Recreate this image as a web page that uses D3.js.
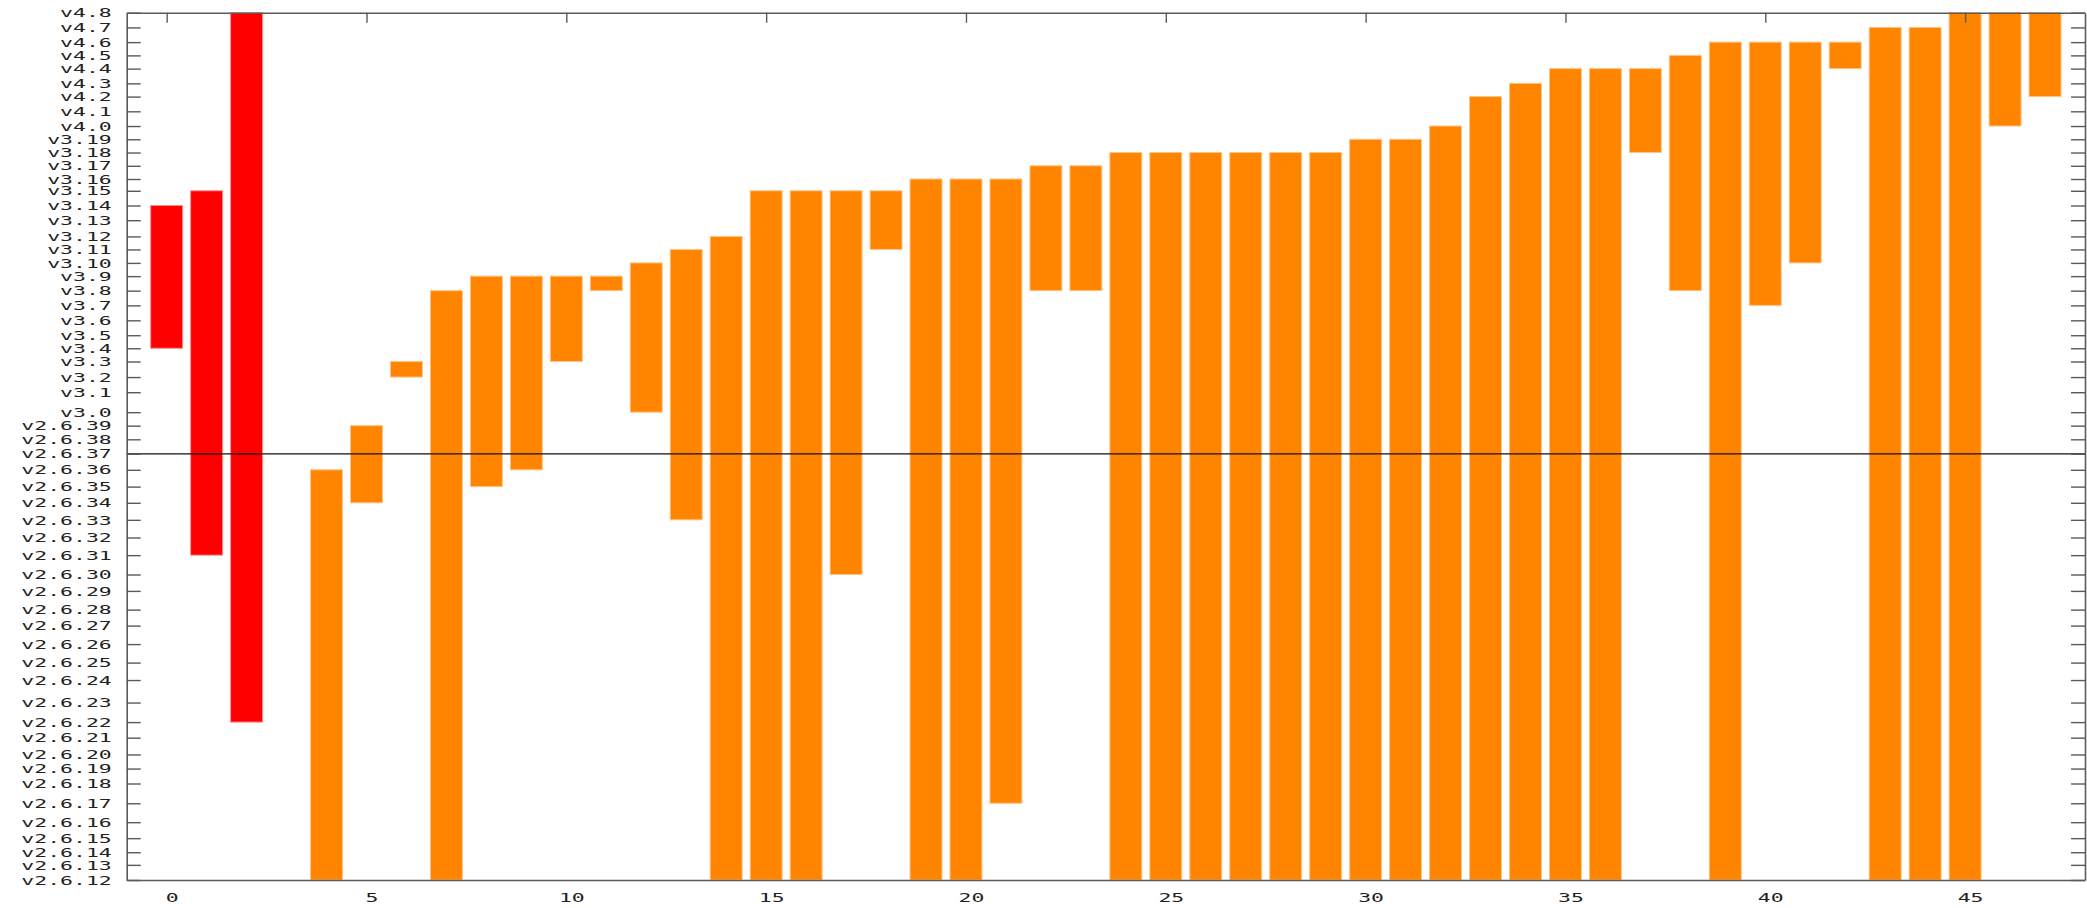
<!DOCTYPE html>
<html>
<head>
<meta charset="utf-8">
<script src="https://cdn.jsdelivr.net/npm/d3@7"></script>
<style>
  html, body { margin: 0; padding: 0; background: #fff; }
  svg { display: block; }
  .lbl { font-family: "DejaVu Sans Mono", "Liberation Mono", monospace; font-size: 13px; fill: #222; }
</style>
</head>
<body>
<svg id="chart" width="2087" height="908"></svg>
<script>
// ---- data ----
const versions = [
  "v2.6.12","v2.6.13","v2.6.14","v2.6.15","v2.6.16","v2.6.17","v2.6.18","v2.6.19","v2.6.20",
  "v2.6.21","v2.6.22","v2.6.23","v2.6.24","v2.6.25","v2.6.26","v2.6.27","v2.6.28","v2.6.29",
  "v2.6.30","v2.6.31","v2.6.32","v2.6.33","v2.6.34","v2.6.35","v2.6.36","v2.6.37","v2.6.38",
  "v2.6.39","v3.0","v3.1","v3.2","v3.3","v3.4","v3.5","v3.6","v3.7","v3.8","v3.9","v3.10",
  "v3.11","v3.12","v3.13","v3.14","v3.15","v3.16","v3.17","v3.18","v3.19","v4.0","v4.1",
  "v4.2","v4.3","v4.4","v4.5","v4.6","v4.7","v4.8"
];
const releaseDates = [
  "2005-06-17","2005-08-28","2005-10-27","2006-01-02","2006-03-19","2006-06-17","2006-09-19","2006-11-29","2007-02-04",
  "2007-04-25","2007-07-08","2007-10-09","2008-01-24","2008-04-16","2008-07-13","2008-10-09","2008-12-24","2009-03-23",
  "2009-06-09","2009-09-09","2009-12-02","2010-02-24","2010-05-16","2010-08-01","2010-10-20","2011-01-04","2011-03-14",
  "2011-05-18","2011-07-21","2011-10-24","2012-01-04","2012-03-18","2012-05-20","2012-07-21","2012-09-30","2012-12-10","2013-02-18","2013-04-28","2013-06-30",
  "2013-09-02","2013-11-03","2014-01-19","2014-03-30","2014-06-08","2014-08-03","2014-10-05","2014-12-07","2015-02-08","2015-04-12","2015-06-21",
  "2015-08-30","2015-11-01","2016-01-10","2016-03-13","2016-05-15","2016-07-24","2016-10-02"
];
const barX = [0,1,2,4,5,6,7,8,9,10,11,12,13,14,15,16,17,18,19,20,21,22,23,24,25,26,27,28,29,30,31,32,33,34,35,36,37,38,39,40,41,42,43,44,45,46,47];
const barFrom = [
  "v3.4","v2.6.31","v2.6.22","v2.6.12","v2.6.34","v3.2","v2.6.12","v2.6.35","v2.6.36","v3.3","v3.8","v3.0","v2.6.33","v2.6.12",
  "v2.6.12","v2.6.12","v2.6.30","v3.11","v2.6.12","v2.6.12","v2.6.17","v3.8","v3.8",
  "v2.6.12","v2.6.12","v2.6.12","v2.6.12","v2.6.12","v2.6.12","v2.6.12","v2.6.12","v2.6.12","v2.6.12","v2.6.12",
  "v2.6.12","v2.6.12","v3.18","v3.8","v2.6.12","v3.7","v3.10","v4.4","v2.6.12","v2.6.12","v2.6.12","v4.0","v4.2"
];
const barTo = [
  "v3.14","v3.15","v4.8","v2.6.36","v2.6.39","v3.3","v3.8","v3.9","v3.9","v3.9","v3.9","v3.10","v3.11","v3.12",
  "v3.15","v3.15","v3.15","v3.15","v3.16","v3.16","v3.16","v3.17","v3.17",
  "v3.18","v3.18","v3.18","v3.18","v3.18","v3.18","v3.19","v3.19","v4.0","v4.2","v4.3",
  "v4.4","v4.4","v4.4","v4.5","v4.6","v4.6","v4.6","v4.6","v4.7","v4.7","v4.8","v4.8","v4.8"
];
const barSeries = barX.map(i => i < 3 ? "old" : "new");
const seriesColor = { old: "#ff0000", new: "#ff8400" };
const seriesEdge  = { old: "#ff8c8c", new: "#ffc488" };
const xTicks = [0,5,10,15,20,25,30,35,40,45];
const markerVersion = "v2.6.37";

// ---- layout ----
const M = { l: 126.7, r: 2085, t: 12.7, b: 880 };
const parse = d3.timeParse("%Y-%m-%d");
const dateOf = {};
versions.forEach((v, i) => dateOf[v] = parse(releaseDates[i]));

const x = d3.scaleLinear().domain([-1, 48]).range([M.l, M.r]);
const y = d3.scaleTime().domain([dateOf["v2.6.12"], dateOf["v4.8"]]).range([M.b, M.t]);
const unit = x(1) - x(0);
const boxW = 0.8 * unit;
const SX = 1.65; // wide bitmap-like glyphs

const svg = d3.select("#chart");

// bars
svg.append("g").selectAll("rect")
  .data(barX.map((xi, k) => ({ xi, from: barFrom[k], to: barTo[k], s: barSeries[k] })))
  .join("rect")
  .attr("x", d => x(d.xi) - boxW / 2)
  .attr("width", boxW)
  .attr("y", d => y(dateOf[d.to]))
  .attr("height", d => y(dateOf[d.from]) - y(dateOf[d.to]))
  .attr("fill", d => seriesColor[d.s])
  .attr("stroke", d => seriesEdge[d.s])
  .attr("stroke-width", 1);

// marker line
svg.append("line")
  .attr("x1", M.l).attr("x2", M.r)
  .attr("y1", y(dateOf[markerVersion])).attr("y2", y(dateOf[markerVersion]))
  .attr("stroke", "#111").attr("stroke-width", 1.3);

const axisColor = "#5a5a5a";
function styleAxis(g) {
  g.select(".domain").attr("stroke", axisColor).attr("stroke-width", 1.6);
  g.selectAll(".tick line").attr("stroke", axisColor).attr("stroke-width", 1.4);
}

// left axis (ticks pointing inward, labels outside)
const yTickDates = versions.map(v => dateOf[v]);
const yLabel = new Map(versions.map(v => [+dateOf[v], v]));
const gl = svg.append("g").attr("transform", `translate(${M.l},0)`)
  .call(d3.axisLeft(y).tickValues(yTickDates).tickFormat(d => yLabel.get(+d))
        .tickSizeInner(-14).tickSizeOuter(0).tickPadding(15));
styleAxis(gl);
gl.selectAll(".tick text")
  .attr("class", "lbl")
  .attr("x", null)
  .attr("transform", `translate(-15,0) scale(${SX},1)`);
gl.attr("font-family", null).attr("font-size", null);

// right axis (mirror ticks)
const gr = svg.append("g").attr("transform", `translate(${M.r},0)`)
  .call(d3.axisRight(y).tickValues(yTickDates).tickFormat(() => "")
        .tickSizeInner(-14).tickSizeOuter(0));
styleAxis(gr);

// top axis (ticks pointing down)
const gt = svg.append("g").attr("transform", `translate(0,${M.t})`)
  .call(d3.axisTop(x).tickValues(xTicks).tickFormat(() => "")
        .tickSizeInner(-10).tickSizeOuter(0));
styleAxis(gt);

// bottom axis (labels only)
const gb = svg.append("g").attr("transform", `translate(0,${M.b})`)
  .call(d3.axisBottom(x).tickValues(xTicks).tickFormat(d3.format("d"))
        .tickSizeInner(0).tickSizeOuter(0).tickPadding(13));
styleAxis(gb);
gb.attr("font-family", null).attr("font-size", null);
gb.selectAll(".tick text")
  .attr("class", "lbl")
  .attr("y", null)
  .attr("dy", "0.71em")
  .attr("transform", `translate(5,13) scale(${SX},1)`);
</script>
</body>
</html>
